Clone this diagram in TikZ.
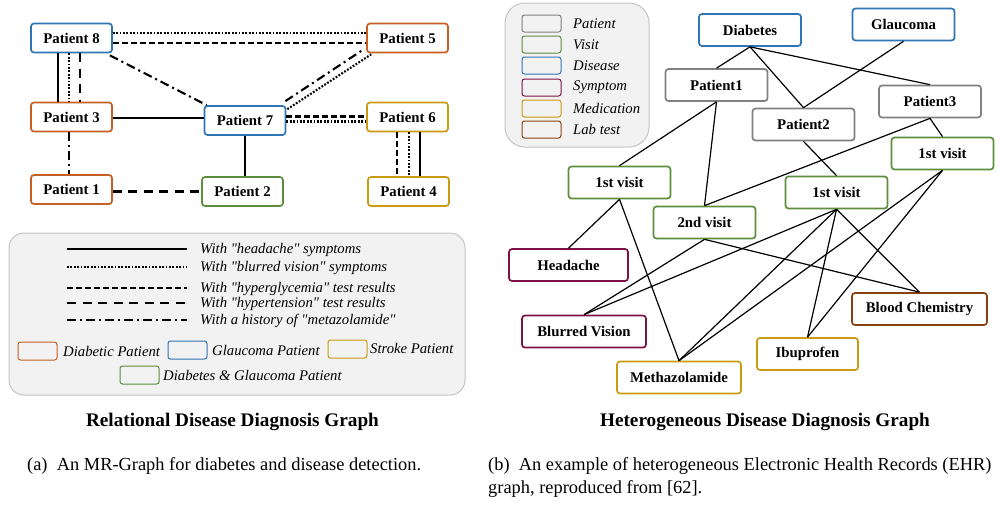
\documentclass[tikz,border=0pt]{standalone}
\usepackage{fontspec}
\setmainfont{Liberation Serif}[Ligatures=TeXOff]
\usetikzlibrary{calc}
\definecolor{diab}{HTML}{C65F22}
\definecolor{glau}{HTML}{2E75B6}
\definecolor{both}{HTML}{5C8E3C}
\definecolor{strk}{HTML}{C99A12}
\definecolor{symp}{HTML}{7E1048}
\definecolor{labt}{HTML}{8A4112}
\definecolor{pati}{HTML}{808080}
\definecolor{lgfill}{HTML}{F2F2F2}
\definecolor{lgline}{HTML}{C4C4C4}
\tikzset{
  pnode/.style={draw, rounded corners=3pt, line width=1.7pt, fill=white, inner sep=0pt,
    minimum width=81pt, minimum height=29pt, font=\fontsize{14.8}{16}\selectfont\bfseries},
  enode/.style={pnode, minimum width=102pt, minimum height=32pt},
  headache/.style={line width=2.1pt},
  blurred/.style={line width=2.1pt, dash pattern=on 1.8pt off 1.6pt},
  hypergly/.style={line width=2.1pt, dash pattern=on 6pt off 3pt},
  hypert/.style={line width=2.1pt, dash pattern=on 9pt off 6.5pt},
  metaz/.style={line width=2.1pt, dash pattern=on 9pt off 4pt on 2pt off 4pt},
  link/.style={line width=1.2pt},
  legendbox/.style={draw=lgline, fill=lgfill, line width=1pt},
  swatch/.style={draw, rounded corners=2.5pt, line width=1pt, inner sep=0pt,
    minimum width=39pt, minimum height=18pt},
  lgtext/.style={anchor=west, inner sep=0pt, font=\fontsize{14.7}{16}\selectfont\itshape},
  heading/.style={font=\fontsize{19.2}{22}\selectfont\bfseries},
  capt/.style={anchor=west, inner sep=0pt, font=\fontsize{18.4}{22}\selectfont}
}
\begin{document}
\begin{tikzpicture}[x=1pt, y=-1pt]
  \useasboundingbox[fill=white] (0,0) rectangle (1008,504);

  % (a) relational graph
  \node[pnode, draw=glau] (p8) at (71.5,38) {Patient 8};
  \node[pnode, draw=diab] (p5) at (407.5,38) {Patient 5};
  \node[pnode, draw=diab] (p3) at (71.5,117) {Patient 3};
  \node[pnode, draw=glau] (p7) at (245,120.5) {Patient 7};
  \node[pnode, draw=strk] (p6) at (407.5,117) {Patient 6};
  \node[pnode, draw=diab] (p1) at (71.5,189.5) {Patient 1};
  \node[pnode, draw=both] (p2) at (242.5,191.5) {Patient 2};
  \node[pnode, draw=strk] (p4) at (408.5,191.5) {Patient 4};

  \draw[blurred] ($(p8.east)+(0,-5)$) -- ($(p5.west)+(0,-5)$);
  \draw[hypergly] ($(p8.east)+(0,5)$) -- ($(p5.west)+(0,5)$);
  \draw[headache] ($(p8.south)+(-13.5,0)$) -- ($(p3.north)+(-13.5,0)$);
  \draw[blurred] ($(p8.south)+(-2.5,0)$) -- ($(p3.north)+(-2.5,0)$);
  \draw[hypert] ($(p8.south)+(8.5,0)$) -- ($(p3.north)+(8.5,0)$);
  \draw[metaz] ($(p8.south east)+(-3,2)$) -- ($(p7.north west)+(3,0)$);
  \draw[metaz] ($(p7.north east)+(-1,-4)$) -- ($(p5.south west)+(-4,-3)$);
  \draw[blurred] ($(p7.north east)+(1,4)$) -- ($(p5.south west)+(5,1)$);
  \draw[headache] ($(p3.east)+(0,1)$) -- ($(p7.west)+(0,-2.5)$);
  \draw[metaz] ($(p3.south)+(-2.5,0)$) -- ($(p1.north)+(-2.5,0)$);
  \draw[hypert] ($(p1.east)+(0,2)$) -- ($(p2.west)+(0,0)$);
  \draw[headache] (p7.south) -- (p7.south |- p2.north);
  \draw[hypergly] ($(p7.east)+(0,-4)$) -- ($(p6.west)+(0,-0.5)$);
  \draw[blurred] ($(p7.east)+(0,1)$) -- ($(p6.west)+(0,4.5)$);
  \draw[hypergly] ($(p6.south)+(-10.5,0)$) -- ($(p4.north)+(-11.5,0)$);
  \draw[blurred] ($(p6.south)+(1.5,0)$) -- ($(p4.north)+(0.5,0)$);
  \draw[headache] ($(p6.south)+(12.5,0)$) -- ($(p4.north)+(11.5,0)$);

  % legend of (a)
  \draw[legendbox, rounded corners=15pt] (9,233) rectangle (465,395);
  \foreach \y/\kind/\txt [count=\i] in {
      249/headache/{With "headache" symptoms},
      267/blurred/{With "blurred vision" symptoms},
      288/hypergly/{With "hyperglycemia" test results},
      303/hypert/{With "hypertension" test results},
      320/metaz/{With a history of "metazolamide"}} {
    \coordinate (ls\i) at (67,\y);
    \coordinate (le\i) at (187,\y);
    \draw[\kind] (ls\i) -- (le\i);
    \node[lgtext] (lt\i) at (200,\y+1) {\txt};
  }
  \node[swatch, draw=diab] (sw1) at (37.5,351) {};
  \node[lgtext] (st1) at (63,351) {Diabetic Patient};
  \node[swatch, draw=glau] (sw2) at (187.5,350) {};
  \node[lgtext] (st2) at (212,350) {Glaucoma Patient};
  \node[swatch, draw=strk] (sw3) at (347.5,349) {};
  \node[lgtext] (st3) at (370,348) {Stroke Patient};
  \node[swatch, draw=both] (sw4) at (139.5,375) {};
  \node[lgtext] (st4) at (163,375) {Diabetes \& Glaucoma Patient};

  % (b) heterogeneous graph
  \node[enode, draw=glau] (dia) at (750,30) {Diabetes};
  \node[enode, draw=glau] (gla) at (903.5,24.5) {Glaucoma};
  \node[enode, draw=pati] (pa1) at (716.5,85) {Patient1};
  \node[enode, draw=pati] (pa2) at (803.5,124.5) {Patient2};
  \node[enode, draw=pati] (pa3) at (930,101.5) {Patient3};
  \node[enode, draw=both] (v11) at (619.5,182.5) {1st visit};
  \node[enode, draw=both] (v12) at (704.5,222.5) {2nd visit};
  \node[enode, draw=both] (v21) at (836.5,192.5) {1st visit};
  \node[enode, draw=both] (v31) at (942.5,153.5) {1st visit};
  \node[enode, draw=symp, minimum width=119pt] (hea) at (568.5,265) {Headache};
  \node[enode, draw=symp, minimum width=124pt] (blu) at (584,331.5) {Blurred Vision};
  \node[enode, draw=strk, minimum width=124pt] (met) at (679,377.5) {Methazolamide};
  \node[enode, draw=strk, minimum width=101pt] (ibu) at (807.5,354) {Ibuprofen};
  \node[enode, draw=labt, minimum width=135pt] (blo) at (919.5,309) {Blood Chemistry};

  \foreach \a/\b in {dia/pa1, dia/pa2, dia/pa3, gla/pa2, pa1/v11, pa1/v12,
      pa2/v21, pa3/v31, pa3/v12, v11/hea, v11/met, v12/blu, v12/blo,
      v21/blu, v21/met, v21/ibu, v21/blo, v31/met, v31/ibu}
    \draw[link] (\a.south) -- (\b.north);

  % legend of (b)
  \draw[legendbox, rounded corners=20pt] (505,3) rectangle (649,147);
  \foreach \y/\col/\txt [count=\i] in {23.5/pati/Patient, 44.5/both/Visit,
      65.5/glau/Disease, 87.5/symp/Symptom, 108.5/strk/Medication, 129.5/labt/Lab test} {
    \node[swatch, draw=\col, minimum height=17pt] (rs\i) at (541.5,\y) {};
    \node[lgtext] (rt\i) at (573,\y) {\txt};
  }

  % headings and captions
  \node[heading] (ta) at (232.5,422) {Relational Disease Diagnosis Graph};
  \node[heading] (tb) at (765,422) {Heterogeneous Disease Diagnosis Graph};
  \node[capt] (ca) at (27,466) {(a)\enspace An MR-Graph for diabetes and disease detection.};
  \node[capt] (cb) at (488,466) {(b)\enspace An example of heterogeneous Electronic Health Records (EHR)};
  \node[capt] (cc) at (488,489) {graph, reproduced from [62].};
\end{tikzpicture}
\end{document}
